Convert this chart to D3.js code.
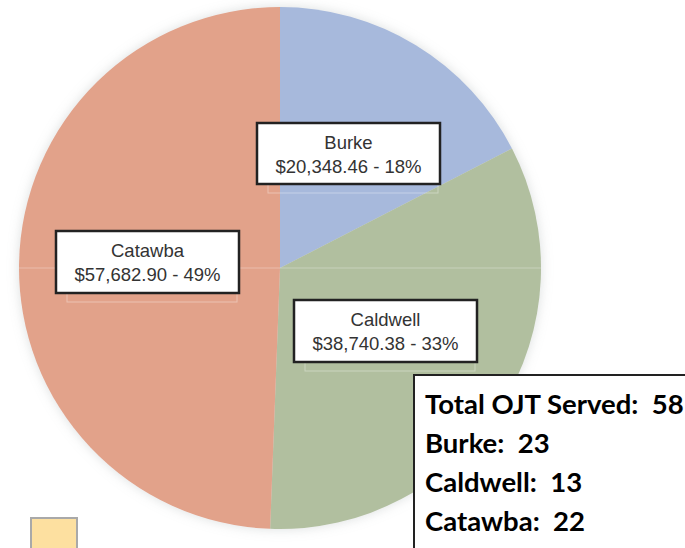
<!DOCTYPE html>
<html><head><meta charset="utf-8">
<script src="https://cdn.jsdelivr.net/npm/d3@7"></script>
<style>html,body{margin:0;padding:0;background:#fff;overflow:hidden}</style>
</head><body>
<svg id="chart" width="685" height="548"></svg>
<script>
const categories = ["Burke", "Caldwell", "Catawba"];
const amounts = [20348.46, 38740.38, 57682.90];
const percentLabels = ["18%", "33%", "49%"];
const colors = ["#a7b9dc", "#b1bf9f", "#e2a28a"];
const servedLabels = ["Total OJT Served:", "Burke:", "Caldwell:", "Catawba:"];
const servedCounts = [58, 23, 13, 22];

const svg = d3.select("#chart");
const cx = 280, cy = 268, r = 261;

const defs = svg.append("defs");
const f = defs.append("filter").attr("id","sh").attr("x","-10%").attr("y","-10%").attr("width","120%").attr("height","120%");
f.append("feGaussianBlur").attr("in","SourceAlpha").attr("stdDeviation",6).attr("result","b");
f.append("feFlood").attr("flood-color","#9aa3a3").attr("flood-opacity",0.35).attr("result","c");
f.append("feComposite").attr("in","c").attr("in2","b").attr("operator","in").attr("result","s");
const m = f.append("feMerge"); m.append("feMergeNode").attr("in","s"); m.append("feMergeNode").attr("in","SourceGraphic");

const pie = d3.pie().sort(null).value(d => d);
const arc = d3.arc().innerRadius(0).outerRadius(r);
const g = svg.append("g").attr("transform", `translate(${cx},${cy})`);
const pg = g.append("g").attr("filter","url(#sh)");
pg.selectAll("path").data(pie(amounts)).join("path")
  .attr("d", arc).attr("fill", (d,i) => colors[i]);

g.append("line").attr("x1",-r).attr("x2",r).attr("y1",0).attr("y2",0)
  .attr("stroke","#fff").attr("stroke-opacity",0.3).attr("stroke-width",1);

const fmt = d3.format(",.2f");
const boxes = [
  {x:257, y:123, w:183, h:61},
  {x:294, y:300, w:183, h:62},
  {x:56, y:231, w:183, h:62}
];
categories.forEach((c,i) => {
  const b = boxes[i];
  svg.append("rect").attr("x", b.x+11).attr("y", b.y+9).attr("width", b.w-13).attr("height", b.h)
    .attr("fill","none").attr("stroke","#fff").attr("stroke-opacity",0.35).attr("stroke-width",1);
  svg.append("rect").attr("x", b.x).attr("y", b.y).attr("width", b.w).attr("height", b.h)
    .attr("fill","#fff").attr("stroke","#222").attr("stroke-width",2.5);
  const t = svg.append("text").attr("text-anchor","middle")
    .style("font-family","'Liberation Sans', Arial, sans-serif").attr("font-size",18.5).attr("fill","#333");
  t.append("tspan").attr("x", b.x + b.w/2).attr("y", b.y + 26).text(c);
  t.append("tspan").attr("x", b.x + b.w/2).attr("y", b.y + 50).text("$" + fmt(amounts[i]) + " - " + percentLabels[i]);
});

svg.append("rect").attr("x",414).attr("y",375).attr("width",290).attr("height",200)
  .attr("fill","#fff").attr("stroke","#222").attr("stroke-width",2);
const ys = [414, 453, 492, 531];
servedLabels.forEach((l,i) => {
  svg.append("text").attr("x",425).attr("y",ys[i])
    .style("font-family","Lato, sans-serif").attr("font-weight","bold")
    .attr("font-size",27.5).attr("fill","#000")
    .attr("xml:space","preserve").text(l + "  " + servedCounts[i]);
});

svg.append("rect").attr("x",31).attr("y",518).attr("width",46).attr("height",40)
  .attr("fill","#fde0a0").attr("stroke","#a9a9a9").attr("stroke-width",2);
</script>
</body></html>
